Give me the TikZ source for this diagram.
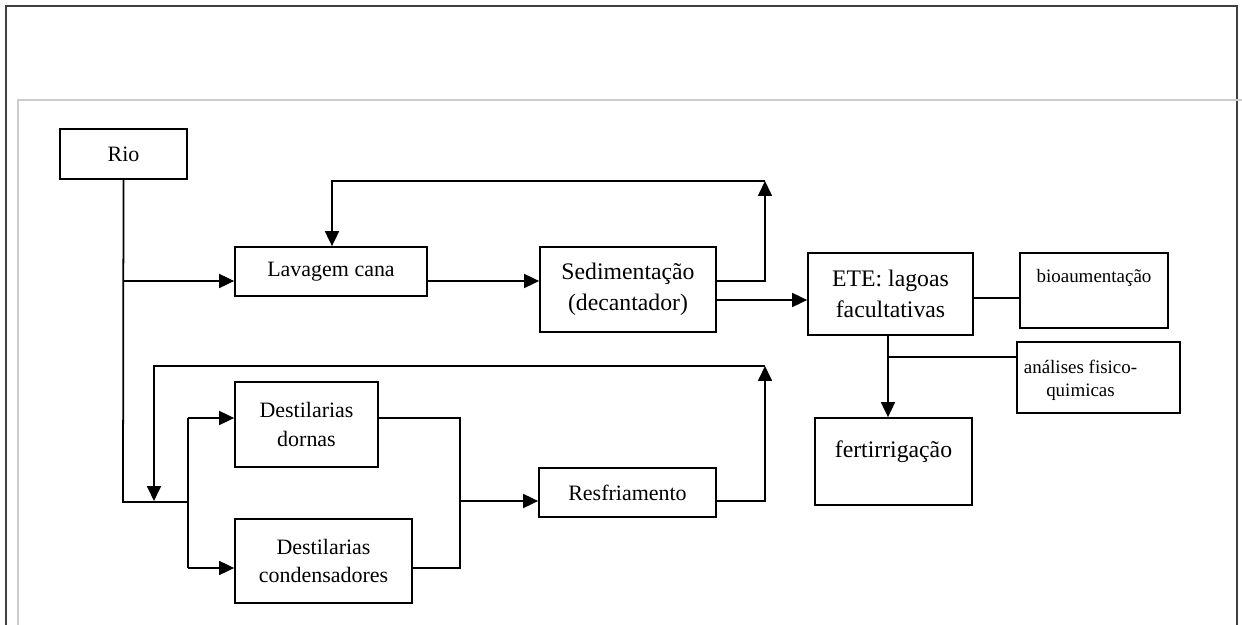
\documentclass[tikz,border=0pt]{standalone}
\usepackage{fontspec}
\setmainfont{Liberation Serif}
\usetikzlibrary{arrows.meta}

\tikzset{
  box/.style={draw, rectangle, line width=1pt, inner sep=0pt, align=center,
    font=\fontsize{12.5}{16}\selectfont},
  bigbox/.style={box, font=\fontsize{13.5}{17.5}\selectfont},
  smallbox/.style={box, font=\fontsize{10.8}{14}\selectfont},
  flow/.style={line width=1pt},
  tip/.style={line width=1pt, -{Triangle[length=0.3cm, width=0.28cm]}},
}

\begin{document}
\begin{tikzpicture}[x=0.02cm, y=-0.02cm]
\useasboundingbox (0,0) rectangle (1242,625);

% page frame
\draw[line width=1.6pt, black!75] (6,625) -- (6,6) -- (1237,6) -- (1237,625);
\draw[line width=0.8pt, black!20] (1242,100) -- (18,100) -- (18,625);

% boxes
\node[box, minimum width=2.54cm, minimum height=1.0cm] (rio) at (123.5,154) {Rio};
\node[box, minimum width=3.84cm, minimum height=0.98cm] (lav) at (331,271.5) {Lavagem cana};
\node[bigbox, minimum width=3.52cm, minimum height=1.7cm] (sedim) at (628,289.5) {Sedimentação\\(decantador)};
\node[bigbox, minimum width=3.3cm, minimum height=1.64cm] (ete) at (890.5,294) {ETE: lagoas\\facultativas};
\node[smallbox, minimum width=2.96cm, minimum height=1.5cm,
  label={[anchor=base, yshift=-0.6cm, font=\fontsize{10.8}{14}\selectfont]north:bioaumentação}] (bio) at (1094,290.5) {};
\node[smallbox, minimum width=3.26cm, minimum height=1.42cm,
  label={[xshift=-0.36cm, yshift=-0.06cm, align=center, font=\fontsize{10.8}{13}\selectfont]center:análises fisico-\\quimicas}] (anal) at (1098.5,377.5) {};
\node[bigbox, minimum width=3.14cm, minimum height=1.74cm,
  label={[anchor=base, yshift=-0.8cm, font=\fontsize{13.5}{17.5}\selectfont]north:fertirrigação}] (fert) at (893.5,461.5) {};
\node[box, minimum width=2.86cm, minimum height=1.7cm] (dornas) at (306.5,424.5) {Destilarias\\dornas};
\node[box, minimum width=3.54cm, minimum height=1.68cm] (cond) at (323.5,561) {Destilarias\\condensadores};
\node[box, minimum width=3.54cm, minimum height=0.98cm] (resf) at (627.5,492.5) {Resfriamento};

% water intake from the river
\coordinate (j1) at (123,281);
\coordinate (j2) at (123,502);
\coordinate (j3) at (188,502);
\coordinate (d1) at (188,418);
\coordinate (d2) at (188,568);
\draw[flow] (rio.south) -- (j2) -- (j3);
\draw[tip] (j1) -- (j1 -| lav.west);
\draw[flow] (d1) -- (d2);
\draw[tip] (d1) -- (d1 -| dornas.west);
\draw[tip] (d2) -- (d2 -| cond.west);

% distilleries to cooling
\coordinate (o1) at (460,418);
\coordinate (o2) at (460,568);
\coordinate (o3) at (460,501);
\draw[flow] (o1 -| dornas.east) -- (o1) -- (o2) -- (o2 -| cond.east);
\draw[tip] (o3) -- (o3 -| resf.west);

% cooling water back
\coordinate (r1) at (765,501);
\coordinate (r2) at (765,366);
\coordinate (r3) at (154,366);
\coordinate (r4) at (154,501);
\draw[tip] (r1 -| resf.east) -- (r1) -- (r2);
\draw[tip] (r2) -- (r3) -- (r4);

% washing and sedimentation
\draw[tip] (j1 -| lav.east) -- (j1 -| sedim.west);
\coordinate (s1) at (765,281);
\coordinate (s2) at (765,181);
\coordinate (s3) at (332,181);
\draw[tip] (s1 -| sedim.east) -- (s1) -- (s2);
\draw[tip] (s2) -- (s3) -- (s3 |- lav.north);
\coordinate (e1) at (808,300);
\draw[tip] (e1 -| sedim.east) -- (e1 -| ete.west);

% treatment station
\coordinate (e2) at (973,298);
\coordinate (e3) at (888,357);
\draw[flow] (e2 -| ete.east) -- (e2 -| bio.west);
\draw[tip] (e3 |- ete.south) -- (e3 |- fert.north);
\draw[flow] (e3) -- (e3 -| anal.west);
\end{tikzpicture}
\end{document}
